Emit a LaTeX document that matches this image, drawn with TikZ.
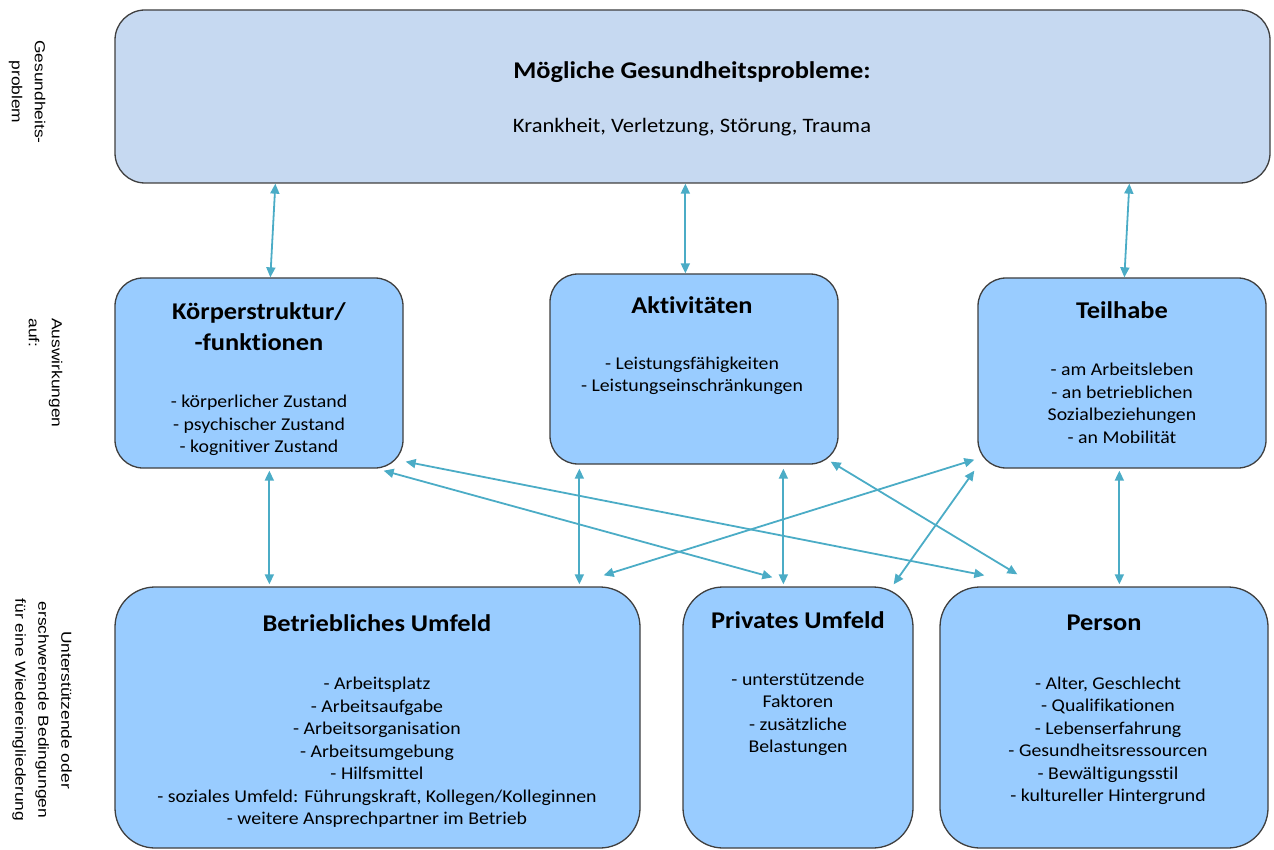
\documentclass[tikz,border=0pt]{standalone}
\usepackage{fontspec}
\setmainfont{Carlito}[FakeStretch=1.1,Ligatures=NoCommon]
\newfontfamily\sidefont{Liberation Sans}[FakeStretch=1.2]
\usetikzlibrary{arrows.meta,calc}
\definecolor{topfill}{HTML}{C6D9F1}
\definecolor{boxfill}{HTML}{99CCFF}
\definecolor{boxline}{HTML}{3F3F3F}
\definecolor{arrowc}{HTML}{4BACC6}
\begin{document}
\begin{tikzpicture}[x=1pt,y=-1pt,
  panel/.style={draw=boxline, line width=1.3pt, rounded corners=#1, inner sep=0pt, fill=boxfill},
  ttl/.style={font=\fontsize{24}{31}\selectfont\bfseries, align=center, inner sep=0pt},
  txt/.style={font=\fontsize{18}{22.5}\selectfont, align=center, inner sep=0pt},
  side/.style={font=\sidefont\fontsize{14.5}{23}\selectfont, rotate=-90, inner sep=0pt},
  conn/.style={draw=arrowc, line width=1.8pt, {Triangle[length=10pt,width=9pt]}-{Triangle[length=10pt,width=9pt]}}
]
\useasboundingbox (0,0) rectangle (1274,850);

% boxes
\node[panel=30pt, fill=topfill, minimum width=1155pt, minimum height=173pt] (top) at (692.5,96.5) {};
\node[panel=28pt, minimum width=288pt, minimum height=190pt] (koerper) at (259,373) {};
\node[panel=28pt, minimum width=288pt, minimum height=190pt] (akt) at (694,369) {};
\node[panel=28pt, minimum width=288pt, minimum height=190pt] (teil) at (1122,373) {};
\node[panel=40pt, minimum width=525pt, minimum height=261pt] (betr) at (377.5,717.5) {};
\node[panel=40pt, minimum width=230pt, minimum height=261pt] (priv) at (798,717.5) {};
\node[panel=40pt, minimum width=328pt, minimum height=261pt] (pers) at (1104,717.5) {};

% texts
\node[ttl] (topT) at (692,72) {Mögliche Gesundheitsprobleme:};
\node[txt, font=\fontsize{20.5}{24}\selectfont] (topB) at (692,127) {Krankheit, Verletzung, Störung, Trauma};

\node[ttl] (koerperT) at (259,326.5) {Körperstruktur/\\-funktionen};
\node[txt] (koerperB) at (259,425.5) {- körperlicher Zustand\\- psychischer Zustand\\- kognitiver Zustand};

\node[ttl] (aktT) at (692,305) {Aktivitäten};
\node[txt] (aktB) at (692,376) {- Leistungsfähigkeiten\\- Leistungseinschränkungen};

\node[ttl] (teilT) at (1122,310) {Teilhabe};
\node[txt] (teilB) at (1122,403.5) {- am Arbeitsleben\\- an betrieblichen\\Sozialbeziehungen\\- an Mobilität};

\node[ttl] (betrT) at (377,623) {Betriebliches Umfeld};
\node[txt] (betrB) at (377,752.5) {- Arbeitsplatz\\- Arbeitsaufgabe\\- Arbeitsorganisation\\- Arbeitsumgebung\\- Hilfsmittel\\- soziales Umfeld: Führungskraft, Kollegen/Kolleginnen\\- weitere Ansprechpartner im Betrieb};

\node[ttl] (privT) at (798,620) {Privates Umfeld};
\node[txt] (privB) at (798,714.5) {- unterstützende\\Faktoren\\- zusätzliche\\Belastungen};

\node[ttl] (persT) at (1104,623) {Person};
\node[txt] (persB) at (1108,741) {- Alter, Geschlecht\\- Qualifikationen\\- Lebenserfahrung\\- Gesundheitsressourcen\\- Bewältigungsstil\\- kultureller Hintergrund};

% side labels
\node[side, align=center] (lab1) at (27,92) {Gesundheits-\\problem};
\node[side, align=left] (lab2) at (45.5,373) {Auswirkungen\\auf:};
\node[side, align=center] (lab3) at (42,710) {Unterstützende oder\\erschwerende Bedingungen\\für eine Wiedereingliederung};

% connectors
\draw[conn] ([xshift=161pt]top.south west) -- ([xshift=156pt]koerper.north west);
\draw[conn] ([xshift=571pt]top.south west) -- ([xshift=136pt]akt.north west);
\draw[conn] ([xshift=1015pt]top.south west) -- ([xshift=147pt]teil.north west);

\draw[conn] ([xshift=155pt,yshift=-2pt]koerper.south west) -- ([xshift=155pt,yshift=2pt]betr.north west);
\draw[conn] ([xshift=30pt,yshift=-4pt]akt.south west) -- ([xshift=465pt,yshift=2pt]betr.north west);
\draw[conn] ([xshift=234pt,yshift=-4pt]akt.south west) -- ([xshift=101pt,yshift=2pt]priv.north west);
\draw[conn] ([xshift=142pt,yshift=-2pt]teil.south west) -- ([xshift=180pt,yshift=2pt]pers.north west);

\draw[conn] ([xshift=2pt,yshift=7pt]koerper.south east) -- ([xshift=45pt,yshift=11pt]pers.north west);
\draw[conn] ([xshift=-20pt,yshift=-2pt]koerper.south east) -- ([xshift=90pt,yshift=9pt]priv.north west);
\draw[conn] ([xshift=-37pt,yshift=11pt]betr.north east) -- ([xshift=-3pt,yshift=9pt]teil.south west);
\draw[conn] ([xshift=-8pt,yshift=3pt]akt.south east) -- ([xshift=78pt,yshift=12pt]pers.north west);
\draw[conn] ([xshift=-3pt,yshift=-2pt]teil.south west) -- ([xshift=-20pt,yshift=2pt]priv.north east);
\end{tikzpicture}
\end{document}
